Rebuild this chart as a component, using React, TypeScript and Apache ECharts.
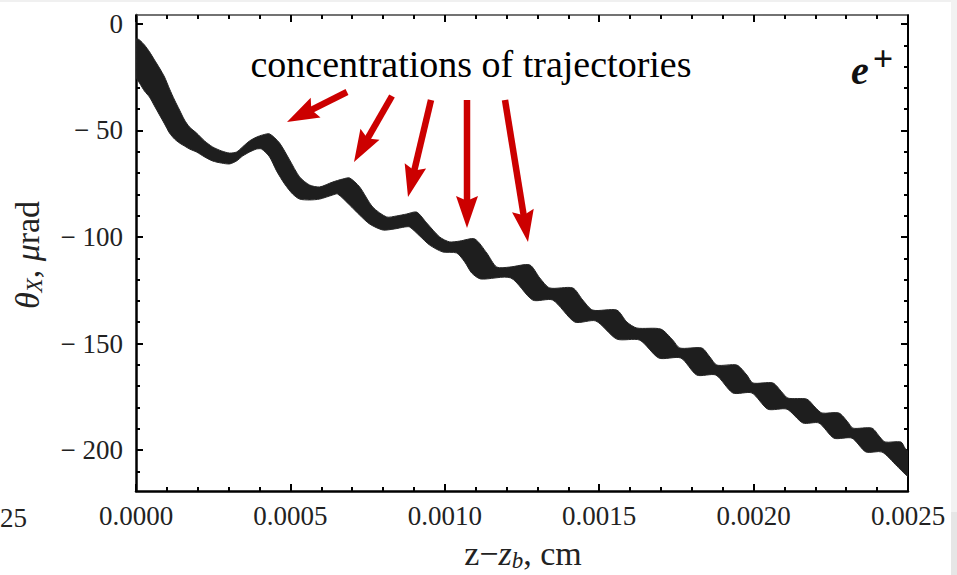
import React, { useEffect, useRef } from "react";
import * as echarts from "echarts";

// Upper edge of the band of trajectories (z - z_b in cm, theta_X in µrad)
const topX = [
  0.0000016, 0.0000113, 0.0000275, 0.0000437, 0.0000599, 0.0000761, 0.0000924, 0.0001086,
  0.0001248, 0.000141, 0.0001572, 0.0001734, 0.000196, 0.000222, 0.0002479, 0.000277,
  0.000303, 0.0003257, 0.0003451, 0.0003678, 0.0003905, 0.0004099, 0.0004326, 0.000465,
  0.0004974, 0.0005298, 0.0005622, 0.0005946, 0.0006367, 0.0006691, 0.0006918, 0.0007242,
  0.0007664, 0.0008117, 0.0008441, 0.0008765, 0.0009089, 0.0009413, 0.0009835, 0.0010159,
  0.0010483, 0.0010969, 0.0011358, 0.0011682, 0.0012103, 0.0012751, 0.0013075, 0.0013399,
  0.0014144, 0.0014468, 0.0014792, 0.001557, 0.0015895, 0.0016218, 0.0016996, 0.0017385,
  0.0017612, 0.0018324, 0.0018584, 0.0018811, 0.0019459, 0.0019783, 0.0019977, 0.0020625,
  0.0020917, 0.0021111, 0.0021727, 0.0021986, 0.0022213, 0.0022764, 0.0023055, 0.0023217,
  0.0023833, 0.0024092, 0.0024254, 0.0024773, 0.0024903, 0.0025,
];
const topY = [
  -7.0, -7.5, -9.9, -13.1, -16.9, -20.7, -24.9, -30.5,
  -35.7, -40.4, -45.1, -48.4, -51.2, -54.9, -57.7, -59.6,
  -60.6, -60.1, -57.7, -54.9, -53.1, -52.1, -51.6, -55.9,
  -63.8, -71.8, -75.6, -76.5, -74.2, -72.8, -72.3, -76.5,
  -85.9, -90.6, -90.1, -89.2, -88.3, -93.4, -100.0, -102.3,
  -101.9, -100.9, -107.5, -114.1, -114.1, -113.1, -119.2, -123.9,
  -123.9, -129.6, -134.3, -134.3, -139.9, -142.7, -143.2, -148.4,
  -152.1, -152.1, -156.3, -160.1, -160.1, -164.8, -168.5, -168.5,
  -172.8, -175.6, -176.1, -179.8, -182.6, -182.6, -186.9, -189.7,
  -189.7, -193.9, -196.2, -196.2, -199.1, -200.9,
];

// Lower edge of the band
const botX = [
  0.0000016, 0.0000113, 0.0000275, 0.0000437, 0.0000599, 0.0000761, 0.0000924, 0.0001086,
  0.0001248, 0.000141, 0.0001572, 0.0001734, 0.000196, 0.000222, 0.0002479, 0.000277,
  0.000303, 0.0003257, 0.0003451, 0.0003678, 0.0003905, 0.0004067, 0.0004326, 0.0004553,
  0.0004812, 0.0005071, 0.0005298, 0.0005622, 0.0005946, 0.0006367, 0.0006529, 0.0006918,
  0.0007242, 0.0007566, 0.0007988, 0.0008376, 0.00087, 0.0008862, 0.0009187, 0.0009511,
  0.0009932, 0.0010385, 0.0010645, 0.0010872, 0.0011163, 0.0012135, 0.0012848, 0.0013496,
  0.0014209, 0.001489, 0.001557, 0.0016315, 0.0016931, 0.0017644, 0.0018162, 0.0018778,
  0.0019329, 0.0019945, 0.0020463, 0.0021079, 0.0021598, 0.0022116, 0.0022602, 0.0023185,
  0.0023639, 0.0024157, 0.0024643, 0.0024838, 0.0025,
];
const botY = [
  -25.4, -27.7, -31.5, -34.3, -38.5, -42.7, -46.9, -51.2,
  -54.0, -55.9, -57.3, -58.7, -60.1, -62.4, -64.3, -65.3,
  -65.7, -64.3, -62.0, -60.1, -58.7, -58.7, -62.4, -69.0,
  -75.1, -79.8, -82.2, -82.6, -82.2, -80.3, -79.8, -85.0,
  -89.7, -93.9, -96.7, -96.2, -95.3, -95.3, -99.5, -103.8,
  -107.0, -107.5, -111.7, -116.9, -119.7, -119.2, -129.6, -129.6,
  -139.9, -139.4, -147.9, -148.4, -156.8, -156.8, -164.8, -164.8,
  -173.2, -173.2, -180.8, -180.8, -187.3, -187.3, -194.4, -194.4,
  -200.9, -200.9, -207.5, -210.3, -212.2,
];

const yMajor = [0, -50, -100, -150, -200];
const yMinor = [0, -10, -20, -30, -40, -60, -70, -80, -90, -110, -120, -130, -140, -160, -170, -180, -190, -210];

// Annotation arrows: [tailX, tailY, tipX, tipY] in pixels
const arrows = [
  [347, 92, 287, 122],
  [392, 96, 354, 162],
  [431, 100, 408, 197],
  [467, 100, 467, 228],
  [505, 100, 528, 242],
];

const SERIF = "'Liberation Serif', 'Times New Roman', serif";
const RED = "#cc0000";
const LABEL = "#222222";

function arrowGraphics() {
  const out: any[] = [];
  const L = 32;
  const W = 11;
  arrows.forEach(([x1, y1, x2, y2]) => {
    const dx = x2 - x1;
    const dy = y2 - y1;
    const len = Math.hypot(dx, dy);
    const ux = dx / len;
    const uy = dy / len;
    const px = -uy;
    const py = ux;
    const bx = x2 - ux * L;
    const by = y2 - uy * L;
    out.push({
      type: "line",
      shape: { x1, y1, x2: x2 - ux * L * 0.8, y2: y2 - uy * L * 0.8 },
      style: { stroke: RED, lineWidth: 6.5 },
      z: 100,
    });
    out.push({
      type: "polygon",
      shape: {
        points: [
          [x2, y2],
          [bx + px * W, by + py * W],
          [x2 - ux * L * 0.85, y2 - uy * L * 0.85],
          [bx - px * W, by - py * W],
        ],
      },
      style: { fill: RED },
      z: 100,
    });
  });
  return out;
}

export default function App() {
  const ref = useRef<HTMLDivElement>(null);
  useEffect(() => {
    if (!ref.current) return;
    const chart = echarts.init(ref.current, undefined, { renderer: "svg" });
    const labelStyle = { fontFamily: SERIF, fontSize: 27, color: LABEL };
    const yMin = -219.2;
    const yMax = 4.2;
    const yBase = (position: string, major: boolean, showLabel: boolean, lineW: number) => ({
      type: "value",
      position,
      min: yMin,
      max: yMax,
      axisLine: { show: major, onZero: false, lineStyle: { color: "#000", width: lineW } },
      axisTick: {
        show: true,
        inside: true,
        length: major ? 7 : 4,
        customValues: major ? yMajor : yMinor,
        lineStyle: { color: "#000", width: 2 },
      },
      axisLabel: showLabel
        ? {
            show: true,
            customValues: yMajor,
            ...labelStyle,
            margin: 13,
            formatter: (v: number) => (v === 0 ? "0" : "\u2212 " + Math.abs(v)),
          }
        : { show: false },
      splitLine: { show: false },
    });
    const xBase = (position: string, showLabel: boolean, lineW: number, color: string) => ({
      type: "value",
      position,
      min: 0,
      max: 0.0025,
      interval: 0.0005,
      axisLine: { show: true, onZero: false, lineStyle: { color, width: lineW } },
      axisTick: { show: true, inside: true, length: 7, lineStyle: { color: "#000", width: 2 } },
      minorTick: { show: true, splitNumber: 5, length: 4, lineStyle: { color: "#000", width: 2 } },
      axisLabel: showLabel
        ? {
            show: true,
            ...labelStyle,
            margin: 11,
            showMinLabel: true,
            showMaxLabel: true,
            formatter: (v: number) => v.toFixed(4),
          }
        : { show: false },
      splitLine: { show: false },
      minorSplitLine: { show: false },
    });

    const richTitle = {
      r: { fontFamily: SERIF, fontSize: 34, lineHeight: 34, fill: LABEL },
      i: { fontFamily: SERIF, fontSize: 34, fontStyle: "italic", lineHeight: 34, fill: LABEL },
      s: {
        fontFamily: SERIF,
        fontSize: 23,
        fontStyle: "italic",
        lineHeight: 20,
        padding: [14, 0, 0, 0],
        fill: LABEL,
      },
    };

    chart.setOption({
      animation: false,
      backgroundColor: "#ffffff",
      grid: { left: 136, right: 49, top: 15, bottom: 84, containLabel: false },
      xAxis: [xBase("bottom", true, 2.5, "#000"), xBase("top", false, 1.5, "#444")],
      yAxis: [
        yBase("left", true, true, 2.5),
        yBase("left", false, false, 2.5),
        yBase("right", true, false, 2),
        yBase("right", false, false, 2),
      ],
      series: [
        {
          type: "custom",
          clip: true,
          xAxisIndex: 0,
          yAxisIndex: 0,
          data: [[0, 0]],
          renderItem: (_params: any, api: any) => {
            const pts: number[][] = [];
            for (let i = 0; i < topX.length; i++) pts.push(api.coord([topX[i], topY[i]]));
            for (let i = botX.length - 1; i >= 0; i--) pts.push(api.coord([botX[i], botY[i]]));
            return {
              type: "polygon",
              shape: { points: pts, smooth: 0.25 },
              style: { fill: "#1e1e1e", stroke: "#262626", lineWidth: 1 },
            };
          },
        },
      ],
      graphic: [
        { type: "rect", shape: { x: 0, y: 0, width: 957, height: 2 }, style: { fill: "#f0f0f0" }, silent: true },
        { type: "rect", shape: { x: 951, y: 0, width: 6, height: 575 }, style: { fill: "#f2f2f2" }, silent: true },
        { type: "rect", shape: { x: 951, y: 512, width: 6, height: 63 }, style: { fill: "#e6e6e6" }, silent: true },
        {
          type: "text",
          x: 0,
          y: 518,
          style: { text: "25", font: `27px ${SERIF}`, fill: LABEL, textAlign: "left", textVerticalAlign: "middle" },
        },
        {
          type: "text",
          x: 471,
          y: 64,
          style: {
            text: "concentrations of trajectories",
            font: `38px ${SERIF}`,
            fill: "#000",
            textAlign: "center",
            textVerticalAlign: "middle",
          },
          z: 100,
        },
        {
          type: "text",
          x: 851,
          y: 70,
          style: {
            text: "e",
            font: `bold italic 40px ${SERIF}`,
            fill: "#111",
            textAlign: "left",
            textVerticalAlign: "middle",
          },
          z: 100,
        },
        {
          type: "text",
          x: 883,
          y: 59,
          style: {
            text: "+",
            font: `bold 36px ${SERIF}`,
            fill: "#111",
            textAlign: "center",
            textVerticalAlign: "middle",
          },
          z: 100,
        },
        {
          type: "text",
          x: 523,
          y: 553,
          style: {
            text: "{r|z\u2212}{i|z}{s|b}{r|, cm}",
            textAlign: "center",
            textVerticalAlign: "middle",
            fill: LABEL,
            rich: richTitle,
          },
        },
        {
          type: "text",
          x: 27,
          y: 255,
          rotation: Math.PI / 2,
          style: {
            text: "{i|\u03b8}{s|X}{r|, }{i|\u03bc}{r|rad}",
            textAlign: "center",
            textVerticalAlign: "middle",
            fill: LABEL,
            rich: richTitle,
          },
        },
        ...arrowGraphics(),
      ],
    });
    return () => chart.dispose();
  }, []);
  return (
    <div
      ref={ref}
      style={{ position: "absolute", left: 0, top: 0, width: 957, height: 575, background: "#fff" }}
    />
  );
}
